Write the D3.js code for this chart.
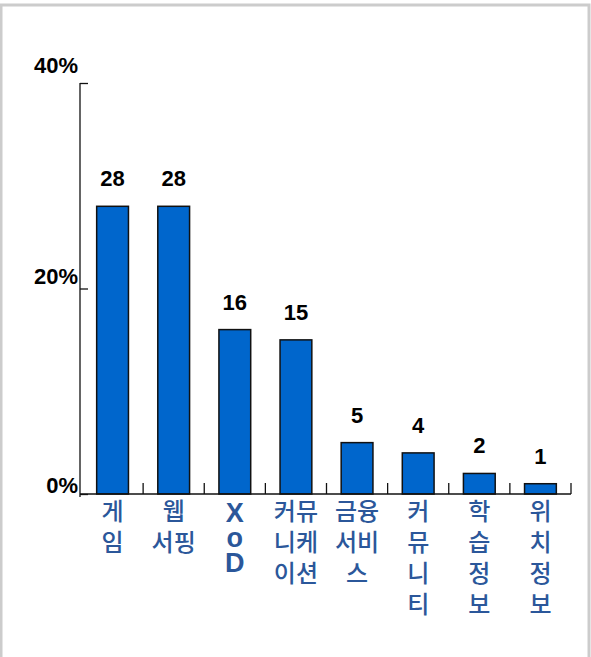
<!DOCTYPE html>
<html>
<head>
<meta charset="utf-8">
<script src="https://cdn.jsdelivr.net/npm/d3@7"></script>
<style>
  html, body { margin: 0; padding: 0; background: #fff; }
  svg { display: block; }
</style>
</head>
<body>
<svg id="chart" width="591" height="657"></svg>
<script>
// Service categories and their shares (%)
const categories = ["게임", "웹서핑", "XoD", "커뮤니케이션", "금융서비스", "커뮤니티", "학습정보", "위치정보"];
const values = [28, 28, 16, 15, 5, 4, 2, 1];
// Line breaks used for the category labels under the axis
const categoryLines = [
  ["게", "임"],
  ["웹", "서핑"],
  ["X", "o", "D"],
  ["커뮤", "니케", "이션"],
  ["금융", "서비", "스"],
  ["커", "뮤", "니", "티"],
  ["학", "습", "정", "보"],
  ["위", "치", "정", "보"]
];
const yTicks = [0, 20, 40];

const svg = d3.select("#chart");

// outer frame
svg.append("rect")
  .attr("x", 1).attr("y", 5)
  .attr("width", 588).attr("height", 700)
  .attr("fill", "none")
  .attr("stroke", "#cccccc")
  .attr("stroke-width", 3);

const x = d3.scaleBand()
  .domain(categories)
  .range([82, 571])
  .paddingInner(0.48)
  .paddingOuter(0.24);

const y = d3.scaleLinear().domain([0, 40]).range([494, 83]);

// y axis: ticks point into the plot, labels on the left
const yAxis = svg.append("g")
  .attr("transform", "translate(80,0)")
  .call(d3.axisLeft(y).tickValues(yTicks).tickFormat(d => d + "%")
    .tickSizeInner(-8).tickSizeOuter(0).tickPadding(2));
yAxis.select(".domain").remove();
yAxis.selectAll(".tick line").attr("stroke", "#111").attr("stroke-width", 1.3);
const labelNudge = { 0: -9, 20: -12, 40: -18 };
yAxis.selectAll(".tick text")
  .attr("font-family", "'Liberation Sans', Arial, sans-serif")
  .attr("font-weight", "bold")
  .attr("font-size", 22)
  .attr("fill", "#000")
  .attr("dy", d => (labelNudge[d] + 7) + "px");
yAxis.append("line")
  .attr("x1", 0).attr("x2", 0)
  .attr("y1", y(40)).attr("y2", y(0) + 3)
  .attr("stroke", "#111").attr("stroke-width", 1.3);

// bars
svg.append("g").selectAll("rect")
  .data(categories)
  .join("rect")
  .attr("x", d => x(d))
  .attr("y", (d, i) => y(values[i]))
  .attr("width", x.bandwidth())
  .attr("height", (d, i) => y(0) - y(values[i]))
  .attr("fill", "#0066cc")
  .attr("stroke", "#111")
  .attr("stroke-width", 1.5);

// value labels
svg.append("g").selectAll("text")
  .data(categories)
  .join("text")
  .attr("x", d => x(d) + x.bandwidth() / 2)
  .attr("y", (d, i) => y(values[i]) - 20)
  .attr("text-anchor", "middle")
  .attr("font-family", "'Liberation Sans', Arial, sans-serif")
  .attr("font-weight", "bold")
  .attr("font-size", 22)
  .attr("fill", "#000")
  .text((d, i) => values[i]);

// x axis line
const xAxis = svg.append("g")
  .attr("transform", `translate(0,${y(0)})`)
  .call(d3.axisBottom(x).tickSize(0).tickSizeOuter(0).tickFormat(""));
xAxis.select(".domain")
  .attr("d", `M80,0H571`)
  .attr("stroke", "#111").attr("stroke-width", 1.3);
xAxis.selectAll(".tick").remove();

// category separators (short upward ticks at band boundaries)
const step = x.step();
const bounds = categories.map((d, i) => x.range()[0] + (i + 1) * step);
svg.append("g").selectAll("line")
  .data(bounds)
  .join("line")
  .attr("x1", d => d).attr("x2", d => d)
  .attr("y1", y(0) - 11).attr("y2", y(0))
  .attr("stroke", "#111").attr("stroke-width", 1.3);

// category labels
const catG = svg.append("g");
categories.forEach((c, i) => {
  const cx = x(c) + x.bandwidth() / 2;
  const latin = c === "XoD";
  const t = catG.append("text")
    .attr("text-anchor", "middle")
    .attr("fill", "#2b579a")
    .attr("font-family", latin ? "'Liberation Sans', Arial, sans-serif" : "'Noto Sans CJK KR', sans-serif")
    .attr("font-weight", latin ? "bold" : 500)
    .attr("font-size", latin ? 27 : 24);
  categoryLines[i].forEach((line, j) => {
    t.append("tspan")
      .attr("x", cx)
      .attr("y", latin ? 522 + j * 25 : 520 + j * 31)
      .text(line);
  });
});
</script>
</body>
</html>
